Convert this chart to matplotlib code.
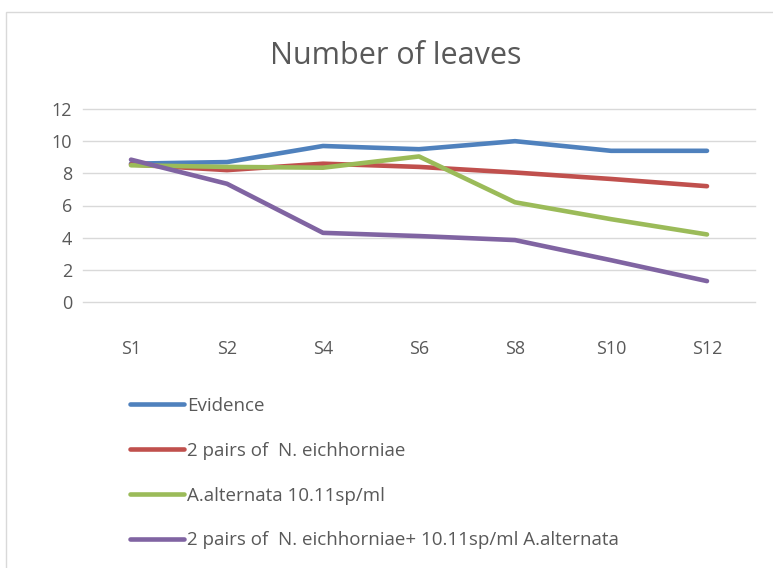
import matplotlib.pyplot as plt
from matplotlib.patches import Rectangle

plt.rcParams['font.family'] = ['Open Sans', 'DejaVu Sans']

stages = ['S1', 'S2', 'S4', 'S6', 'S8', 'S10', 'S12']
evidence = [8.6, 8.7, 9.7, 9.5, 10.0, 9.4, 9.4]
n_eich = [8.55, 8.2, 8.6, 8.4, 8.05, 7.65, 7.2]
a_alt = [8.5, 8.4, 8.35, 9.05, 6.2, 5.15, 4.2]
combined = [8.85, 7.35, 4.3, 4.1, 3.85, 2.6, 1.3]

labels = ['Evidence',
          '2 pairs of  N. eichhorniae',
          'A.alternata 10.11sp/ml',
          '2 pairs of  N. eichhorniae+ 10.11sp/ml A.alternata']
colors = ['#4F81BD', '#C0504D', '#9BBB59', '#8064A2']
text_col = '#595959'

fig = plt.figure(figsize=(7.73, 5.68), dpi=100)
# chart frame
fig.patches.append(Rectangle((6 / 773, -0.01), 1.0, 1 - 12 / 568 + 0.01,
                             transform=fig.transFigure, fill=False,
                             edgecolor='#d9d9d9', linewidth=1))

ax = fig.add_axes([83 / 773, 1 - 302 / 568, (755 - 83) / 773, (302 - 109) / 568])
x = range(len(stages))
for ys, lab, c in zip([evidence, n_eich, a_alt, combined], labels, colors):
    ax.plot(x, ys, color=c, lw=3.3, label=lab, solid_capstyle='round',
            solid_joinstyle='round')

ax.set_xlim(-0.5, 6.5)
ax.set_ylim(0, 12)
ax.set_yticks(range(0, 13, 2))
ax.set_xticks(list(x))
ax.set_xticklabels(stages)
ax.grid(axis='y', color='#d9d9d9', lw=1)
for gl in ax.get_ygridlines():
    gl.set_clip_on(False)
ax.set_axisbelow(True)
for s in ax.spines.values():
    s.set_visible(False)
ax.tick_params(axis='both', length=0, labelsize=13, colors=text_col)
ax.tick_params(axis='x', pad=27)
ax.tick_params(axis='y', pad=8)

fig.text(396 / 773, 1 - 56 / 568, 'Number of leaves', ha='center', va='center',
         fontsize=22, color=text_col)

fig.legend(loc='upper left', bbox_to_anchor=(130 / 773, 1 - 397 / 568),
           frameon=False, fontsize=13.5, labelcolor=text_col, handlelength=2.9,
           handletextpad=0.15, labelspacing=1.43, borderpad=0, borderaxespad=0)

fig.savefig('out.png', dpi=100)
